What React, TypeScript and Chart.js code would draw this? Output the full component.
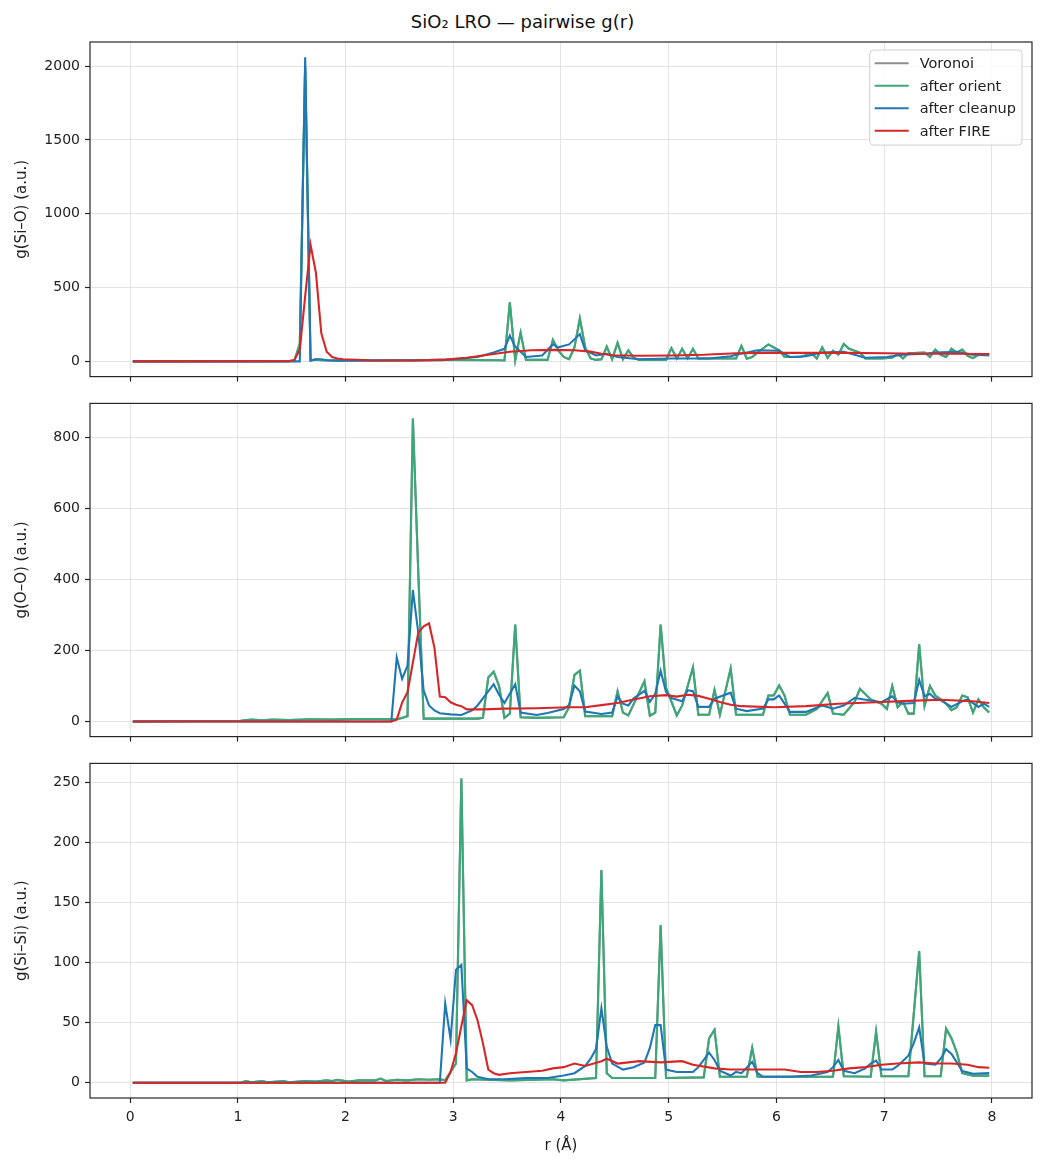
import { useEffect, useRef } from "react";
import { Chart, registerables } from "chart.js";

Chart.register(...registerables);

const FONT = "'DejaVu Sans', 'Noto Sans', sans-serif";
const AXIS_COLOR = "#262626";
const GRID_COLOR = "#e3e3e3";

const SERIES_LABELS = ["Voronoi", "after orient", "after cleanup", "after FIRE"];
const SERIES_COLORS = ["#8c8c8c", "#3aa877", "#1f77b4", "#d62728"];

const R_TICKS = [0, 1, 2, 3, 4, 5, 6, 7, 8];
const R_MIN = -0.3725;
const R_MAX = 8.3725;

const SIO_TICKS = [0, 500, 1000, 1500, 2000];
const OO_TICKS = [0, 200, 400, 600, 800];
const SISI_TICKS = [0, 50, 100, 150, 200, 250];

type Pt = [number, number];

// g(Si–O), [r, g] pairs
const SIO_ORIENT: Pt[] = [
  [0.025, 0], [1.475, 1], [1.525, 5], [1.575, 120], [1.625, 2000], [1.675, 8], [1.725, 12], [1.775, 8],
  [1.875, 6], [2.3, 6], [2.6, 8], [2.9, 10], [3.425, 8], [3.475, 6], [3.525, 400], [3.575, 8], [3.625, 195],
  [3.675, 10], [3.875, 10], [3.925, 145], [3.975, 75], [4.025, 30], [4.075, 15], [4.125, 95], [4.175, 290],
  [4.225, 95], [4.275, 20], [4.325, 10], [4.375, 15], [4.425, 100], [4.475, 15], [4.525, 125], [4.575, 15],
  [4.625, 75], [4.675, 25], [4.725, 10], [4.975, 10], [5.025, 90], [5.075, 20], [5.125, 85], [5.175, 20],
  [5.225, 85], [5.275, 20], [5.625, 20], [5.675, 105], [5.725, 18], [5.775, 30], [5.825, 60], [5.925, 115],
  [6.025, 75], [6.075, 30], [6.225, 30], [6.325, 55], [6.375, 20], [6.425, 95], [6.475, 25], [6.525, 72],
  [6.575, 45], [6.625, 118], [6.675, 85], [6.775, 60], [6.825, 20], [6.975, 20], [7.075, 25], [7.125, 50],
  [7.175, 20], [7.225, 55], [7.375, 60], [7.425, 30], [7.475, 80], [7.525, 45], [7.575, 30], [7.625, 85],
  [7.675, 60], [7.725, 80], [7.775, 38], [7.825, 22], [7.875, 45], [7.975, 50],
];
const SIO_VORONOI: Pt[] = SIO_ORIENT;
const SIO_CLEANUP: Pt[] = [
  [0.025, 0], [1.575, 0], [1.625, 2060], [1.675, 5], [1.725, 15], [1.775, 15], [1.825, 8], [1.925, 5],
  [2.5, 6], [2.9, 8], [3.225, 30], [3.375, 60], [3.475, 85], [3.525, 175], [3.575, 100], [3.675, 30],
  [3.825, 40], [3.925, 115], [3.975, 95], [4.075, 115], [4.175, 185], [4.225, 75], [4.325, 40], [4.425, 52],
  [4.525, 30], [4.725, 15], [5.025, 20], [5.375, 20], [5.575, 35], [5.625, 45], [5.825, 75], [6.025, 72],
  [6.125, 30], [6.275, 35], [6.425, 60], [6.625, 65], [6.825, 25], [7.025, 30], [7.175, 45], [7.375, 52],
  [7.475, 60], [7.675, 65], [7.825, 45], [7.975, 40],
];
const SIO_FIRE: Pt[] = [
  [0.025, 0], [1.475, 2], [1.525, 10], [1.575, 80], [1.625, 440], [1.675, 790], [1.725, 600], [1.775, 190],
  [1.825, 65], [1.875, 30], [1.925, 20], [1.975, 15], [2.225, 8], [2.625, 6], [2.925, 12], [3.125, 25],
  [3.325, 45], [3.525, 65], [3.725, 75], [3.925, 78], [4.125, 75], [4.275, 66], [4.375, 52], [4.475, 42],
  [4.725, 38], [5.025, 40], [5.325, 45], [5.625, 55], [5.925, 58], [6.625, 58], [7.025, 55], [7.325, 52],
  [7.625, 52], [7.975, 50],
];

// g(O–O)
const OO_ORIENT: Pt[] = [
  [0.025, 0], [1.025, 2], [1.125, 5], [1.225, 3], [1.325, 5], [1.475, 4], [1.675, 6], [1.875, 5], [2.075, 7],
  [2.275, 7], [2.475, 6], [2.525, 10], [2.575, 15], [2.625, 853], [2.675, 420], [2.725, 8], [3.225, 8],
  [3.275, 10], [3.325, 124], [3.375, 140], [3.425, 100], [3.475, 10], [3.525, 22], [3.575, 273], [3.625, 12],
  [3.775, 10], [4.025, 12], [4.075, 40], [4.125, 131], [4.175, 143], [4.225, 15], [4.475, 15], [4.525, 85],
  [4.575, 25], [4.625, 17], [4.775, 113], [4.825, 16], [4.875, 25], [4.925, 273], [4.975, 95], [5.075, 17],
  [5.125, 45], [5.225, 152], [5.275, 19], [5.375, 19], [5.425, 89], [5.475, 19], [5.575, 149], [5.625, 19],
  [5.875, 19], [5.925, 73], [5.975, 73], [6.025, 101], [6.075, 73], [6.125, 19], [6.275, 19], [6.375, 35],
  [6.475, 80], [6.525, 22], [6.625, 19], [6.725, 55], [6.775, 92], [6.875, 62], [6.975, 50], [7.025, 35],
  [7.075, 100], [7.125, 40], [7.175, 55], [7.225, 22], [7.275, 22], [7.325, 217], [7.375, 44], [7.425, 100],
  [7.475, 73], [7.525, 62], [7.575, 50], [7.625, 32], [7.675, 40], [7.725, 73], [7.775, 68], [7.825, 25],
  [7.875, 62], [7.925, 40], [7.975, 25],
];
const OO_VORONOI: Pt[] = OO_ORIENT;
const OO_CLEANUP: Pt[] = [
  [0.025, 0], [2.425, 0], [2.475, 180], [2.525, 120], [2.575, 157], [2.625, 370], [2.675, 250], [2.725, 87],
  [2.775, 45], [2.825, 31], [2.875, 23], [2.975, 20], [3.075, 18], [3.175, 31], [3.225, 45], [3.275, 65],
  [3.375, 105], [3.425, 75], [3.475, 52], [3.575, 105], [3.625, 25], [3.775, 18], [3.875, 24], [4.025, 35],
  [4.075, 46], [4.125, 101], [4.175, 85], [4.225, 28], [4.375, 21], [4.475, 25], [4.525, 70], [4.575, 50],
  [4.625, 45], [4.675, 65], [4.775, 86], [4.825, 55], [4.875, 78], [4.925, 143], [4.975, 83], [5.025, 66],
  [5.125, 57], [5.175, 88], [5.225, 85], [5.275, 41], [5.375, 41], [5.425, 64], [5.575, 81], [5.625, 36],
  [5.725, 29], [5.875, 36], [5.925, 62], [5.975, 62], [6.025, 73], [6.075, 50], [6.125, 27], [6.275, 27],
  [6.425, 45], [6.525, 36], [6.625, 45], [6.725, 66], [6.875, 59], [6.975, 54], [7.075, 71], [7.125, 54],
  [7.175, 50], [7.275, 52], [7.325, 117], [7.375, 71], [7.425, 78], [7.475, 64], [7.525, 60], [7.625, 41],
  [7.725, 57], [7.775, 62], [7.875, 41], [7.925, 50], [7.975, 41],
];
const OO_FIRE: Pt[] = [
  [0.025, 0], [2.425, 0], [2.475, 5], [2.525, 53], [2.575, 82], [2.625, 166], [2.675, 250], [2.725, 268],
  [2.775, 276], [2.825, 208], [2.875, 70], [2.925, 68], [2.975, 54], [3.025, 47], [3.075, 43], [3.125, 34],
  [3.275, 34], [3.475, 36], [3.775, 37], [4.075, 40], [4.225, 40], [4.375, 46], [4.525, 52], [4.675, 62],
  [4.825, 71], [4.975, 74], [5.075, 70], [5.175, 75], [5.275, 72], [5.375, 64], [5.475, 55], [5.575, 47],
  [5.675, 43], [5.975, 40], [6.275, 43], [6.575, 50], [6.925, 54], [7.225, 58], [7.525, 61], [7.825, 57],
  [7.975, 52],
];

// g(Si–Si)
const SISI_ORIENT: Pt[] = [
  [0.025, 0], [1.025, 0], [1.075, 1.5], [1.125, 0.5], [1.225, 1.5], [1.275, 0.5], [1.425, 1.5], [1.475, 0.5],
  [1.625, 1.5], [1.725, 1], [1.825, 2], [1.875, 1.5], [1.925, 2.5], [2.025, 1], [2.125, 2], [2.275, 2],
  [2.325, 3.5], [2.375, 1.5], [2.475, 2.5], [2.575, 2], [2.675, 3], [2.775, 2.5], [2.875, 3], [2.925, 2],
  [3.025, 16], [3.075, 253], [3.125, 2], [3.175, 3], [3.525, 2], [3.925, 3], [4.025, 2], [4.325, 4],
  [4.375, 177], [4.425, 8], [4.475, 4], [4.875, 4], [4.925, 131], [4.975, 4], [5.325, 4.5], [5.375, 37],
  [5.425, 44], [5.475, 5], [5.725, 5], [5.775, 29], [5.825, 5], [6.525, 5], [6.575, 47], [6.625, 5.5],
  [6.875, 5], [6.925, 42.5], [6.975, 5.5], [7.225, 5.5], [7.325, 109.5], [7.375, 5.5], [7.525, 5.5],
  [7.575, 45], [7.625, 37], [7.675, 25], [7.725, 8], [7.825, 6], [7.975, 6],
];
const SISI_VORONOI: Pt[] = SISI_ORIENT;
const SISI_CLEANUP: Pt[] = [
  [0.025, 0], [2.875, 0], [2.925, 66], [2.975, 36], [3.025, 94], [3.075, 98], [3.125, 12], [3.175, 9],
  [3.225, 5], [3.325, 3], [3.475, 3], [3.675, 4], [3.875, 4], [4.025, 6], [4.125, 8], [4.225, 14], [4.275, 20],
  [4.325, 28], [4.375, 62], [4.425, 30], [4.475, 16], [4.575, 11], [4.675, 13], [4.775, 17], [4.825, 29],
  [4.875, 48], [4.925, 48], [4.975, 11], [5.075, 9], [5.225, 9], [5.275, 13], [5.375, 25], [5.425, 19],
  [5.475, 10], [5.575, 6], [5.625, 9], [5.675, 8], [5.775, 17.5], [5.825, 8], [5.875, 5], [6.125, 5],
  [6.325, 6], [6.475, 9], [6.525, 13], [6.575, 19], [6.625, 10], [6.725, 8], [6.825, 12], [6.875, 16],
  [6.925, 18.5], [6.975, 11], [7.075, 11], [7.125, 14], [7.225, 22.5], [7.275, 33], [7.325, 46], [7.375, 16],
  [7.475, 15], [7.525, 20], [7.575, 28], [7.625, 24], [7.675, 17], [7.725, 9.7], [7.825, 7.5], [7.975, 8],
];
const SISI_FIRE: Pt[] = [
  [0.025, 0], [2.925, 0], [2.975, 9], [3.025, 24.5], [3.075, 47], [3.125, 68.7], [3.175, 64.6], [3.225, 52],
  [3.275, 33], [3.325, 11], [3.375, 8], [3.425, 6.6], [3.525, 8], [3.675, 9], [3.825, 10], [3.925, 12],
  [4.025, 13], [4.125, 16], [4.225, 14], [4.375, 18], [4.425, 20], [4.525, 16], [4.625, 17], [4.725, 18],
  [4.925, 17], [5.125, 18], [5.225, 15], [5.425, 12], [5.575, 11], [5.925, 11], [6.075, 11], [6.225, 9],
  [6.375, 9], [6.525, 10], [6.675, 12], [6.825, 13], [6.975, 15], [7.125, 16], [7.325, 17], [7.475, 16],
  [7.625, 16], [7.775, 15], [7.875, 13], [7.975, 12.5],
];

// Full box around the plotting area
const framePlugin = {
  id: "frame",
  afterDraw(chart: any) {
    const { ctx, chartArea } = chart;
    ctx.save();
    ctx.strokeStyle = AXIS_COLOR;
    ctx.lineWidth = 1.2;
    ctx.strokeRect(chartArea.left, chartArea.top, chartArea.right - chartArea.left, chartArea.bottom - chartArea.top);
    ctx.restore();
  },
};

// Legend drawn inside the upper-right corner of the plotting area
const insetLegendPlugin = {
  id: "insetLegend",
  afterDraw(chart: any) {
    const { ctx, chartArea } = chart;
    const datasets = chart.data.datasets;
    ctx.save();
    ctx.font = `14.5px ${FONT}`;
    const textW = Math.max(...datasets.map((d: any) => ctx.measureText(d.label).width));
    const rowH = 22.5;
    const w = 50 + textW + 6;
    const h = 13.3 + rowH * (datasets.length - 1) + 14.3;
    const x = chartArea.right - 10 - w;
    const y = chartArea.top + 8;
    ctx.beginPath();
    ctx.roundRect(x, y, w, h, 4);
    ctx.fillStyle = "rgba(255,255,255,0.85)";
    ctx.fill();
    ctx.strokeStyle = "#d0d0d0";
    ctx.lineWidth = 1;
    ctx.stroke();
    datasets.forEach((d: any, i: number) => {
      const cy = y + 13.3 + i * rowH;
      ctx.beginPath();
      ctx.strokeStyle = d.borderColor;
      ctx.lineWidth = 2;
      ctx.moveTo(x + 5, cy);
      ctx.lineTo(x + 39, cy);
      ctx.stroke();
      ctx.fillStyle = "#222";
      ctx.textBaseline = "middle";
      ctx.textAlign = "left";
      ctx.fillText(d.label, x + 50, cy + 1);
    });
    ctx.restore();
  },
};

type PanelProps = {
  top: number;
  height: number;
  padTop: number;
  xAxisHeight: number;
  yLabel: string;
  yMin: number;
  yMax: number;
  yTicks: number[];
  series: Pt[][];
  showXLabels: boolean;
  showLegend: boolean;
};

function Panel(props: PanelProps) {
  const ref = useRef<HTMLCanvasElement | null>(null);
  useEffect(() => {
    const canvas = ref.current;
    if (!canvas) return;
    const tickFont = { family: FONT, size: 14 };
    const titleFont = { family: FONT, size: 15 };
    const chart = new Chart(canvas, {
      type: "line",
      data: {
        datasets: props.series.map((pts, i) => ({
          label: SERIES_LABELS[i],
          data: pts.map(([x, y]) => ({ x, y })),
          borderColor: SERIES_COLORS[i],
          backgroundColor: SERIES_COLORS[i],
          borderWidth: 2.1,
          pointRadius: 0,
          tension: 0,
          fill: false,
          order: SERIES_LABELS.length - i,
        })),
      },
      options: {
        responsive: false,
        maintainAspectRatio: false,
        animation: false,
        events: [],
        layout: { padding: { top: props.padTop, right: 13, bottom: 0, left: 0 } },
        plugins: { legend: { display: false }, tooltip: { enabled: false }, title: { display: false } },
        scales: {
          x: {
            type: "linear",
            min: R_MIN,
            max: R_MAX,
            afterBuildTicks: (s: any) => {
              s.ticks = R_TICKS.map((v) => ({ value: v }));
            },
            afterFit: (s: any) => {
              s.height = props.xAxisHeight;
            },
            grid: { color: GRID_COLOR, lineWidth: 1, drawTicks: true, tickLength: 5, tickColor: AXIS_COLOR, tickWidth: 1.2 },
            border: { display: false },
            ticks: {
              display: props.showXLabels,
              font: tickFont,
              color: "#222",
              padding: 6,
              maxRotation: 0,
              autoSkip: false,
              callback: (v: any) => String(v),
            },
            title: {
              display: props.showXLabels,
              text: "r (Å)",
              font: titleFont,
              color: "#222",
              padding: { top: 0, bottom: 11 },
            },
          },
          y: {
            type: "linear",
            min: props.yMin,
            max: props.yMax,
            afterBuildTicks: (s: any) => {
              s.ticks = props.yTicks.map((v) => ({ value: v }));
            },
            afterFit: (s: any) => {
              s.width = 90;
            },
            grid: { color: GRID_COLOR, lineWidth: 1, drawTicks: true, tickLength: 5, tickColor: AXIS_COLOR, tickWidth: 1.2 },
            border: { display: false },
            ticks: { font: tickFont, color: "#222", padding: 5, callback: (v: any) => String(v) },
            title: {
              display: true,
              text: props.yLabel,
              font: titleFont,
              color: "#222",
              padding: { top: 13, bottom: 0 },
            },
          },
        },
      },
      plugins: props.showLegend ? [framePlugin, insetLegendPlugin] : [framePlugin],
    } as any);
    return () => chart.destroy();
  }, []);
  return (
    <canvas
      ref={ref}
      width={1045}
      height={props.height}
      style={{ position: "absolute", left: 0, top: props.top, display: "block" }}
    />
  );
}

export default function App() {
  useEffect(() => {
    document.body.style.margin = "0";
  }, []);
  return (
    <div style={{ position: "relative", width: 1045, height: 1166, background: "#fff", fontFamily: FONT }}>
      <div
        style={{
          position: "absolute",
          top: 12,
          left: 0,
          width: 1045,
          textAlign: "center",
          fontSize: 18,
          lineHeight: "20px",
          color: "#111",
        }}
      >
        SiO₂ LRO — pairwise g(r)
      </div>
      <Panel
        top={0}
        height={390}
        padTop={42}
        xAxisHeight={12}
        yLabel="g(Si–O) (a.u.)"
        yMin={-103}
        yMax={2163}
        yTicks={SIO_TICKS}
        series={[SIO_VORONOI, SIO_ORIENT, SIO_CLEANUP, SIO_FIRE]}
        showXLabels={false}
        showLegend={true}
      />
      <Panel
        top={390}
        height={360}
        padTop={12}
        xAxisHeight={13}
        yLabel="g(O–O) (a.u.)"
        yMin={-42.7}
        yMax={895.7}
        yTicks={OO_TICKS}
        series={[OO_VORONOI, OO_ORIENT, OO_CLEANUP, OO_FIRE]}
        showXLabels={false}
        showLegend={false}
      />
      <Panel
        top={750}
        height={416}
        padTop={12}
        xAxisHeight={68}
        yLabel="g(Si–Si) (a.u.)"
        yMin={-12.65}
        yMax={265.65}
        yTicks={SISI_TICKS}
        series={[SISI_VORONOI, SISI_ORIENT, SISI_CLEANUP, SISI_FIRE]}
        showXLabels={true}
        showLegend={false}
      />
    </div>
  );
}
